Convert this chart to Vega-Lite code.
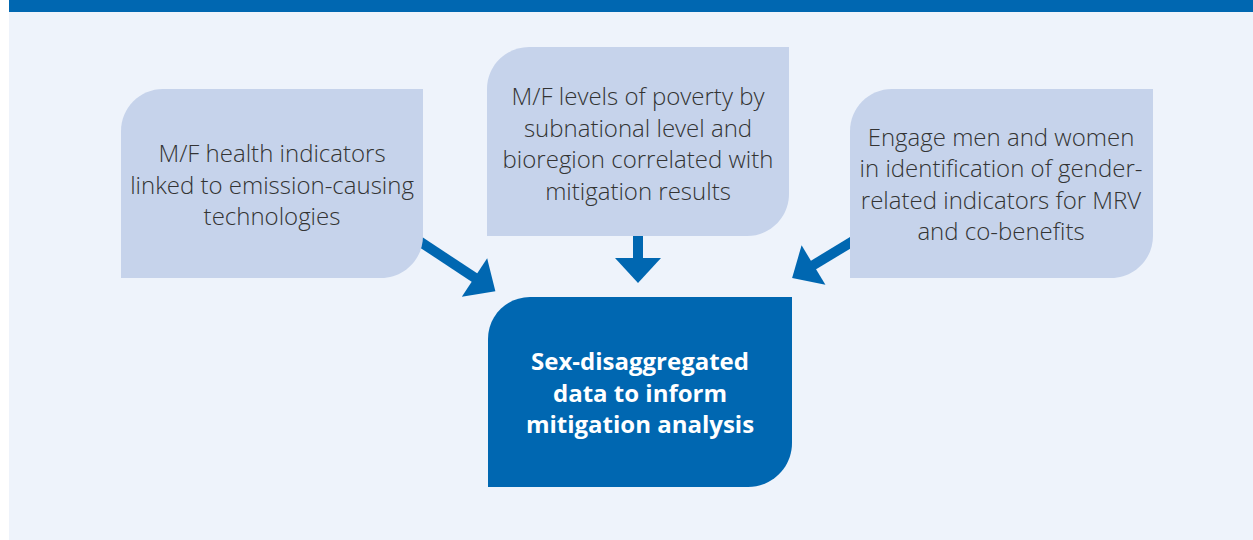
{
  "$schema": "https://vega.github.io/schema/vega-lite/v6.json",
  "width": 1253,
  "height": 540,
  "autosize": {"type": "fit", "contains": "padding"},
  "padding": 0,
  "background": "#ffffff",
  "config": {"view": {"stroke": null}},
  "datasets": {
    "panel": [
      {"part": "background", "x": 9, "x2": 1253, "y": 12, "y2": 540},
      {"part": "topbar", "x": 9, "x2": 1253, "y": 0, "y2": 12}
    ],
    "shafts": [
      {"arrow": "left", "x": 416, "y": 239, "x2": 475.5, "y2": 278.2},
      {"arrow": "middle", "x": 638, "y": 230, "x2": 638, "y2": 259},
      {"arrow": "right", "x": 856.3, "y": 239.1, "x2": 812.7, "y2": 265.5}
    ],
    "heads": [
      {"arrow": "left", "x": 474.5, "y": 277.5, "angle": -56.6},
      {"arrow": "middle", "x": 638, "y": 258, "angle": 0},
      {"arrow": "right", "x": 813.5, "y": 265, "angle": 58.8}
    ],
    "boxes": [
      {"box": "health", "x": 121, "x2": 423, "y": 89, "y2": 278},
      {"box": "poverty", "x": 487, "x2": 789, "y": 47, "y2": 236},
      {"box": "engage", "x": 850, "x2": 1153, "y": 89, "y2": 278}
    ],
    "mainbox": [
      {"box": "sex-disaggregated", "x": 488, "x2": 792, "y": 297, "y2": 487}
    ],
    "labels": [
      {"box": "health", "x": 272, "y": 155, "label": "M/F health indicators|linked to emission-causing|technologies"},
      {"box": "poverty", "x": 638, "y": 98, "label": "M/F levels of poverty by|subnational level and|bioregion correlated with|mitigation results"},
      {"box": "engage", "x": 1001, "y": 138.5, "label": "Engage men and women|in identification of gender-|related indicators for MRV|and co-benefits"}
    ],
    "mainlabel": [
      {"box": "sex-disaggregated", "x": 640, "y": 363, "label": "Sex-disaggregated|data to inform|mitigation analysis"}
    ]
  },
  "encoding": {
    "x": {"field": "x", "type": "quantitative", "scale": {"domain": [0, 1253], "nice": false, "zero": false}, "axis": null},
    "y": {"field": "y", "type": "quantitative", "scale": {"domain": [0, 540], "nice": false, "zero": false, "reverse": true}, "axis": null}
  },
  "layer": [
    {
      "data": {"name": "panel"},
      "mark": {"type": "rect"},
      "encoding": {
        "x2": {"field": "x2"},
        "y2": {"field": "y2"},
        "color": {"field": "part", "type": "nominal", "scale": {"domain": ["background", "topbar"], "range": ["#EEF3FB", "#0067B1"]}, "legend": null}
      }
    },
    {
      "data": {"name": "shafts"},
      "mark": {"type": "rule", "color": "#0067B1", "strokeWidth": 10, "strokeCap": "butt"},
      "encoding": {
        "x2": {"field": "x2"},
        "y2": {"field": "y2"}
      }
    },
    {
      "data": {"name": "heads"},
      "mark": {"type": "point", "filled": true, "opacity": 1, "color": "#0067B1", "strokeWidth": 0, "size": 2116, "shape": "M -1 0 L 1 0 L 0 1.087 Z"},
      "encoding": {
        "angle": {"field": "angle", "type": "quantitative", "scale": null}
      }
    },
    {
      "data": {"name": "boxes"},
      "mark": {"type": "rect", "color": "#C6D3EB", "cornerRadiusTopLeft": 42, "cornerRadiusBottomRight": 42},
      "encoding": {
        "x2": {"field": "x2"},
        "y2": {"field": "y2"}
      }
    },
    {
      "data": {"name": "mainbox"},
      "mark": {"type": "rect", "color": "#0067B1", "cornerRadiusTopLeft": 42, "cornerRadiusBottomRight": 44},
      "encoding": {
        "x2": {"field": "x2"},
        "y2": {"field": "y2"}
      }
    },
    {
      "data": {"name": "labels"},
      "mark": {"type": "text", "lineBreak": "|", "lineHeight": 31.5, "font": "Open Sans", "fontWeight": 300, "fontSize": 24, "color": "#333333", "align": "center", "baseline": "middle"},
      "encoding": {
        "text": {"field": "label", "type": "nominal"}
      }
    },
    {
      "data": {"name": "mainlabel"},
      "mark": {"type": "text", "lineBreak": "|", "lineHeight": 31.5, "font": "Open Sans", "fontWeight": 700, "fontSize": 24, "color": "#FFFFFF", "align": "center", "baseline": "middle"},
      "encoding": {
        "text": {"field": "label", "type": "nominal"}
      }
    }
  ]
}
